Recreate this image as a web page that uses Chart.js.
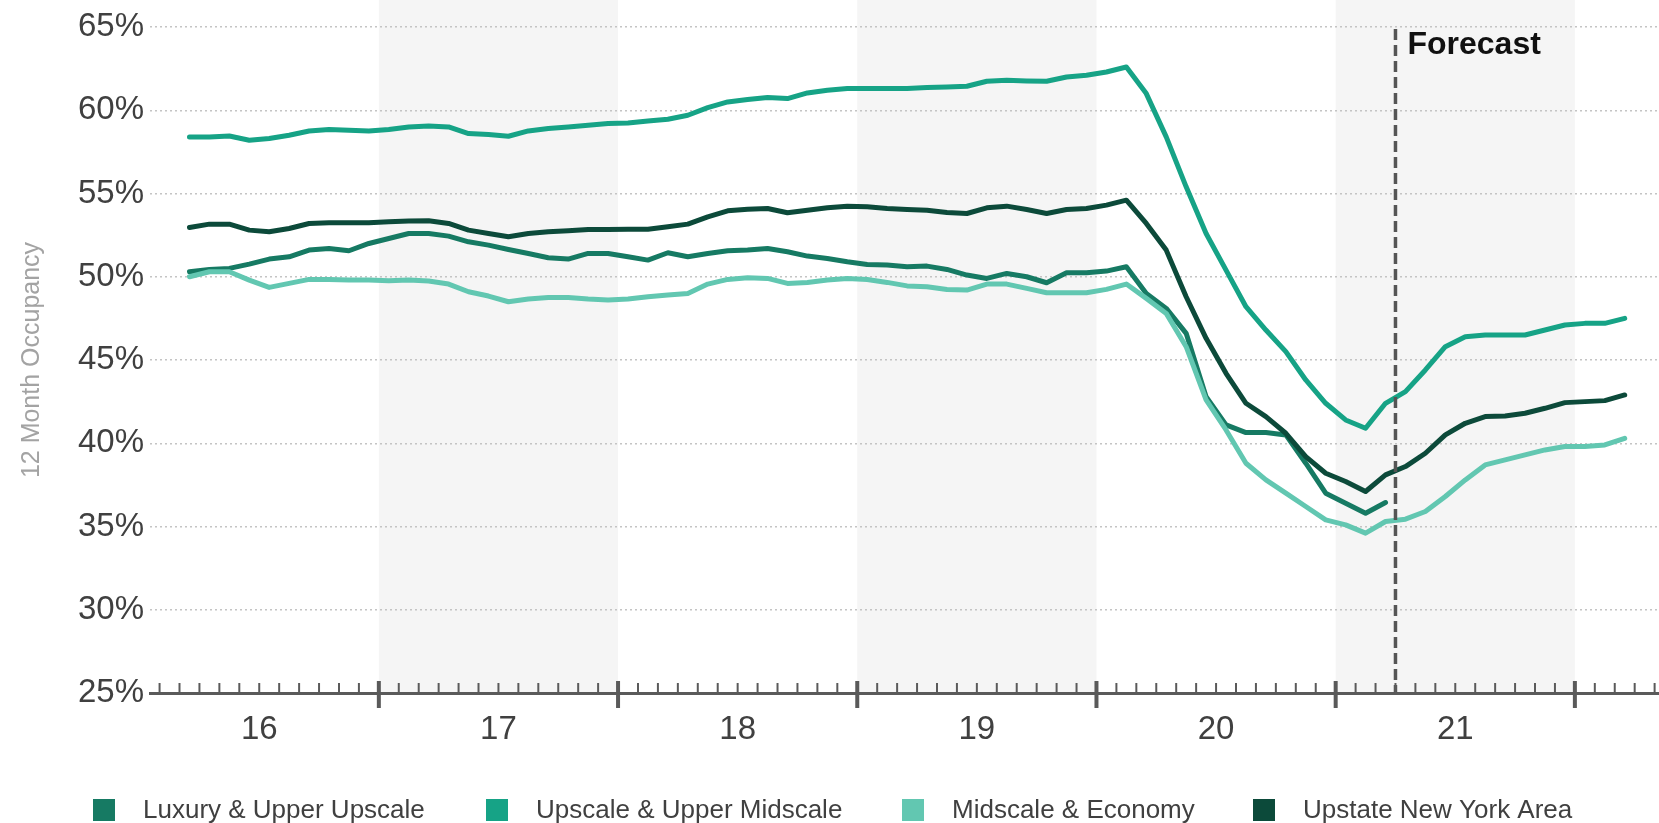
<!DOCTYPE html>
<html>
<head>
<meta charset="utf-8">
<script src="https://cdn.jsdelivr.net/npm/chart.js@4.4.0/dist/chart.umd.min.js"></script>
<style>
  html, body { margin: 0; padding: 0; background: #fff; }
  canvas { display: block; }
</style>
</head>
<body>
<canvas id="occChart" width="1659" height="823"></canvas>
<script>
// months are counted from Jan 2016, first reading is March 2016
var startMonth = 2;
var years = ['16', '17', '18', '19', '20', '21'];
var shadedYears = ['17', '19', '21'];
var forecastStart = 63; // start of Apr 2021
var yTicks = [25, 30, 35, 40, 45, 50, 55, 60, 65];

var seriesNames = ['Luxury & Upper Upscale', 'Upscale & Upper Midscale', 'Midscale & Economy', 'Upstate New York Area'];
var seriesColors = ['#167a63', '#16a386', '#62c7b1', '#0c4a3a'];

var luxury = [
    50.3, 50.44, 50.5, 50.76, 51.06, 51.2, 51.6, 51.7, 51.56, 52.0,
    52.3, 52.6, 52.6, 52.44, 52.1, 51.9, 51.64, 51.4, 51.14, 51.06, 51.4, 51.4,
    51.2, 51.0, 51.44, 51.2, 51.4, 51.56, 51.6, 51.7, 51.5, 51.24, 51.1, 50.9,
    50.74, 50.7, 50.6, 50.64, 50.44, 50.1, 49.9, 50.2, 50.0, 49.64, 50.24, 50.24,
    50.34, 50.6, 49.0, 48.1, 46.6, 42.8, 41.1, 40.64, 40.64, 40.5, 38.8, 37.0,
    36.4, 35.8, 36.44
];
var upscale = [
    58.4, 58.4, 58.45, 58.2, 58.3, 58.5, 58.75, 58.85, 58.8, 58.75,
    58.85, 59.0, 59.06, 59.0, 58.6, 58.54, 58.44, 58.76, 58.9, 59.0, 59.1, 59.2,
    59.24, 59.35, 59.46, 59.7, 60.16, 60.5, 60.64, 60.76, 60.7, 61.04, 61.2, 61.3,
    61.3, 61.3, 61.3, 61.36, 61.4, 61.44, 61.74, 61.8, 61.76, 61.74, 62.0, 62.1,
    62.3, 62.6, 61.0, 58.4, 55.4, 52.6, 50.4, 48.2, 46.8, 45.5, 43.8, 42.4,
    41.4, 40.9, 42.4, 43.1, 44.4, 45.8, 46.4, 46.5, 46.5, 46.5, 46.8, 47.1,
    47.2, 47.2, 47.5
];
var midscale = [
    50.0, 50.3, 50.3, 49.8, 49.36, 49.6, 49.84, 49.84, 49.8, 49.8,
    49.76, 49.8, 49.74, 49.56, 49.1, 48.84, 48.5, 48.66, 48.76, 48.76, 48.66, 48.6,
    48.66, 48.8, 48.9, 49.0, 49.56, 49.84, 49.94, 49.9, 49.6, 49.66, 49.8, 49.9,
    49.84, 49.66, 49.45, 49.4, 49.24, 49.2, 49.56, 49.56, 49.3, 49.04, 49.04, 49.04,
    49.24, 49.56, 48.7, 47.8, 45.8, 42.6, 40.8, 38.8, 37.8, 37.0, 36.2, 35.4,
    35.1, 34.6, 35.3, 35.44, 35.9, 36.8, 37.8, 38.7, 39.0, 39.3, 39.6, 39.8,
    39.8, 39.9, 40.3
];
var upstate = [
    52.96, 53.16, 53.16, 52.8, 52.7, 52.9, 53.2, 53.24, 53.24, 53.24,
    53.3, 53.35, 53.36, 53.2, 52.8, 52.6, 52.4, 52.6, 52.7, 52.76, 52.84, 52.84,
    52.86, 52.85, 53.0, 53.16, 53.6, 53.96, 54.06, 54.1, 53.84, 54.0, 54.14, 54.24,
    54.2, 54.1, 54.04, 54.0, 53.86, 53.8, 54.14, 54.24, 54.04, 53.8, 54.04, 54.1,
    54.3, 54.6, 53.2, 51.6, 48.8, 46.3, 44.2, 42.4, 41.6, 40.6, 39.2, 38.2,
    37.7, 37.1, 38.1, 38.6, 39.4, 40.5, 41.2, 41.6, 41.64, 41.8, 42.1, 42.44,
    42.5, 42.56, 42.9
];

Chart.defaults.font.family = "'Liberation Sans', Arial, sans-serif";

function aPuntos(valores) {
    // each reading sits in the middle of its month
    return valores.map(function (v, k) { return { x: startMonth + k + 0.5, y: v }; });
}

// light grey band behind every other year
var bandasAnios = {
    id: 'bandasAnios',
    beforeDraw: function (chart) {
        var ctx = chart.ctx, xs = chart.scales.x, area = chart.chartArea;
        ctx.save();
        ctx.fillStyle = '#f5f5f5';
        shadedYears.forEach(function (yr) {
            var k = years.indexOf(yr);
            var x1 = xs.getPixelForValue(k * 12);
            var x2 = Math.min(xs.getPixelForValue((k + 1) * 12), area.right);
            ctx.fillRect(x1, 0, x2 - x1, area.bottom);
        });
        ctx.restore();
    }
};

// monthly ticks, longer ones at year boundaries
var marcasMes = {
    id: 'marcasMes',
    afterDraw: function (chart) {
        var ctx = chart.ctx, xs = chart.scales.x, y0 = chart.chartArea.bottom;
        ctx.save();
        ctx.strokeStyle = '#5a5a5a';
        for (var m = Math.ceil(xs.min); m <= xs.max; m++) {
            var px = xs.getPixelForValue(m);
            var mayor = m % 12 === 0;
            ctx.lineWidth = mayor ? 4 : 2;
            ctx.beginPath();
            ctx.moveTo(px, mayor ? y0 - 12 : y0 - 10);
            ctx.lineTo(px, mayor ? y0 + 15 : y0);
            ctx.stroke();
        }
        ctx.restore();
    }
};

var lineaPronostico = {
    id: 'lineaPronostico',
    afterDatasetsDraw: function (chart) {
        var ctx = chart.ctx, xs = chart.scales.x, area = chart.chartArea;
        var px = xs.getPixelForValue(forecastStart);
        ctx.save();
        ctx.strokeStyle = '#555555';
        ctx.lineWidth = 3.5;
        ctx.setLineDash([11, 5]);
        ctx.beginPath();
        ctx.moveTo(px, area.top + 2);
        ctx.lineTo(px, area.bottom);
        ctx.stroke();
        ctx.setLineDash([]);
        ctx.fillStyle = '#111111';
        ctx.font = "bold 32px 'Liberation Sans', Arial, sans-serif";
        ctx.textBaseline = 'middle';
        ctx.textAlign = 'left';
        ctx.fillText('Forecast', px + 12, 45);
        ctx.restore();
    }
};

var leyenda = {
    id: 'leyenda',
    afterDraw: function (chart) {
        var ctx = chart.ctx;
        var xs = [93, 486, 902, 1253];
        ctx.save();
        ctx.font = "26px 'Liberation Sans', Arial, sans-serif";
        ctx.textBaseline = 'middle';
        ctx.textAlign = 'left';
        seriesNames.forEach(function (n, k) {
            ctx.fillStyle = seriesColors[k];
            ctx.fillRect(xs[k], 799, 22, 22);
            ctx.fillStyle = '#404040';
            ctx.fillText(n, xs[k] + 50, 811);
        });
        ctx.restore();
    }
};

var ctx = document.getElementById('occChart').getContext('2d');
var chart = new Chart(ctx, {
    type: 'line',
    data: {
        datasets: [
            { label: seriesNames[0], data: aPuntos(luxury), borderColor: seriesColors[0], order: 2 },
            { label: seriesNames[1], data: aPuntos(upscale), borderColor: seriesColors[1], order: 3 },
            { label: seriesNames[2], data: aPuntos(midscale), borderColor: seriesColors[2], order: 1 },
            { label: seriesNames[3], data: aPuntos(upstate), borderColor: seriesColors[3], order: 0 }
        ]
    },
    options: {
        responsive: false,
        animation: false,
        devicePixelRatio: 1,
        layout: { padding: { top: 27, left: 0, right: 0, bottom: 0 } },
        elements: {
            point: { radius: 0 },
            line: { borderWidth: 5, tension: 0, borderCapStyle: 'round', borderJoinStyle: 'round', fill: false }
        },
        plugins: {
            legend: { display: false },
            tooltip: { enabled: false }
        },
        scales: {
            x: {
                type: 'linear',
                min: 0.52,
                max: 76.22,
                afterBuildTicks: function (s) {
                    s.ticks = years.map(function (y, k) { return { value: k * 12 + 6 }; });
                },
                ticks: {
                    autoSkip: false,
                    maxRotation: 0,
                    padding: 17,
                    color: '#404040',
                    font: { size: 33 },
                    callback: function (v) { return years[Math.round((v - 6) / 12)]; }
                },
                grid: { display: false, drawTicks: false },
                border: { display: true, color: '#5a5a5a', width: 3 },
                afterFit: function (s) { s.height = 130; }
            },
            y: {
                min: 25,
                max: 65,
                afterBuildTicks: function (s) {
                    s.ticks = yTicks.map(function (v) { return { value: v }; });
                },
                ticks: {
                    padding: 6,
                    color: '#404040',
                    font: { size: 33 },
                    callback: function (v) { return v + '%'; }
                },
                grid: {
                    drawTicks: false,
                    lineWidth: 1.5,
                    color: function (c) { return c.tick && c.tick.value === 25 ? 'rgba(0,0,0,0)' : '#c4c4c4'; }
                },
                border: { display: false, dash: [2, 3] },
                title: {
                    display: true,
                    text: '12 Month Occupancy',
                    color: '#a3a3a3',
                    font: { size: 25 },
                    padding: { top: 17, bottom: 0 }
                },
                afterFit: function (s) { s.width = 150; }
            }
        }
    },
    plugins: [bandasAnios, marcasMes, lineaPronostico, leyenda]
});
</script>
</body>
</html>
